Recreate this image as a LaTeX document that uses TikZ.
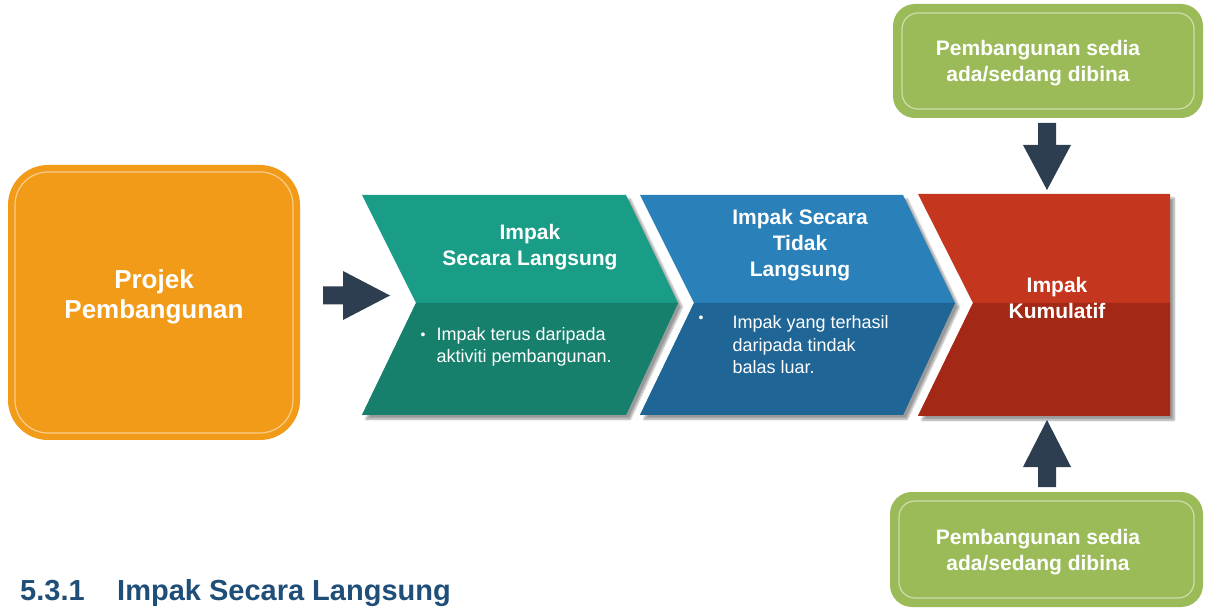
\documentclass[tikz,border=0pt]{standalone}
\usepackage{fontspec}
\setmainfont{Liberation Sans}
\usetikzlibrary{shadows.blur}
\definecolor{orng}{HTML}{F29B19}
\definecolor{grnT}{HTML}{1A9D86}
\definecolor{grnB}{HTML}{16806C}
\definecolor{bluT}{HTML}{2A80B9}
\definecolor{bluB}{HTML}{1F6596}
\definecolor{redT}{HTML}{C5361E}
\definecolor{redB}{HTML}{A32916}
\definecolor{olive}{HTML}{9BBB59}
\definecolor{darkarr}{HTML}{2C3E50}
\definecolor{headc}{HTML}{1F4E79}
\begin{document}
\begin{tikzpicture}[x=1pt,y=-1pt,
  chevshadow/.style={blur shadow={shadow xshift=4pt,shadow yshift=-4pt,shadow blur steps=6,shadow opacity=40}},
  blockarrow/.style={fill=darkarr},
  innerline/.style={draw=white,draw opacity=0.5,line width=1.2pt},
  headtxt/.style={text=white,align=center,font=\bfseries\fontsize{21}{26}\selectfont},
  bodytxt/.style={text=white,align=left,anchor=west,font=\fontsize{18}{22.5}\selectfont},
  bullettxt/.style={text=white,font=\fontsize{14}{16}\selectfont}
]
\useasboundingbox (0,0) rectangle (1205,609);

% orange box
\fill[orng,rounded corners=40pt] (8,165) rectangle (300,440);
\draw[innerline,rounded corners=33pt] (15,172) rectangle (293,433);
\node[text=white,align=center,font=\bfseries\fontsize{26}{30}\selectfont] (proj) at (154,297) {Projek\\Pembangunan};

% green chevron
\fill[grnT,chevshadow] (362,195) -- (626,195) -- (678,303) -- (626,415) -- (362,415) -- (416,303) -- cycle;
\fill[grnB] (416,303) -- (678,303) -- (626,415) -- (362,415) -- cycle;
\node[headtxt] (g) at (530,247) {Impak\\Secara Langsung};
\node[bullettxt] (gb) at (423,336) {\textbullet};
\node[bodytxt] (gt) at (433,347) {Impak terus daripada\\aktiviti pembangunan.};

% blue chevron
\fill[bluT,chevshadow] (640,195) -- (903,195) -- (955,303) -- (903,415) -- (640,415) -- (694,303) -- cycle;
\fill[bluB] (694,303) -- (955,303) -- (903,415) -- (640,415) -- cycle;
\node[headtxt] (b) at (800,245) {Impak Secara\\Tidak\\Langsung};
\node[bullettxt] (bb) at (701,319) {\textbullet};
\node[bodytxt] (bt) at (729,345) {Impak yang terhasil\\daripada tindak\\balas luar.};

% red block
\fill[redT,chevshadow] (918,194) -- (1170,194) -- (1170,416) -- (918,416) -- (973,303) -- cycle;
\fill[redB] (973,303) -- (1170,303) -- (1170,416) -- (918,416) -- cycle;
\node[headtxt] (r) at (1057,298) {Impak\\Kumulatif};

% green boxes
\fill[olive,rounded corners=22pt] (893,4) rectangle (1203,118);
\draw[innerline,rounded corners=16pt] (902,13) rectangle (1194,109);
\node[headtxt] (top) at (1038,63) {Pembangunan sedia\\ada/sedang dibina};
\fill[olive,rounded corners=22pt] (890,492) rectangle (1203,607);
\draw[innerline,rounded corners=16pt] (899,501) rectangle (1194,598);
\node[headtxt] (bot) at (1038,552.5) {Pembangunan sedia\\ada/sedang dibina};

% block arrows
\coordinate (a1) at (323,295.5);
\fill[blockarrow] (a1) ++(0,-9) -- ++(20,0) -- ++(0,-15.5) -- ++(47,24.5) -- ++(-47,24.5) -- ++(0,-15.5) -- ++(-20,0) -- cycle;
\coordinate (a2) at (1047,123);
\fill[blockarrow] (a2) ++(-9,0) -- ++(0,22) -- ++(-15,0) -- ++(24,45) -- ++(24,-45) -- ++(-15,0) -- ++(0,-22) -- cycle;
\coordinate (a3) at (1047,487);
\fill[blockarrow] (a3) ++(-9,0) -- ++(0,-20) -- ++(-15,0) -- ++(24,-47) -- ++(24,47) -- ++(-15,0) -- ++(0,20) -- cycle;

% heading
\node[anchor=base west,inner sep=0pt,text=headc,font=\bfseries\fontsize{29}{33}\selectfont] (hn) at (20,600) {5.3.1};
\node[anchor=base west,inner sep=0pt,text=headc,font=\bfseries\fontsize{29}{33}\selectfont] (ht) at (117,600) {Impak Secara Langsung};
\end{tikzpicture}
\end{document}
